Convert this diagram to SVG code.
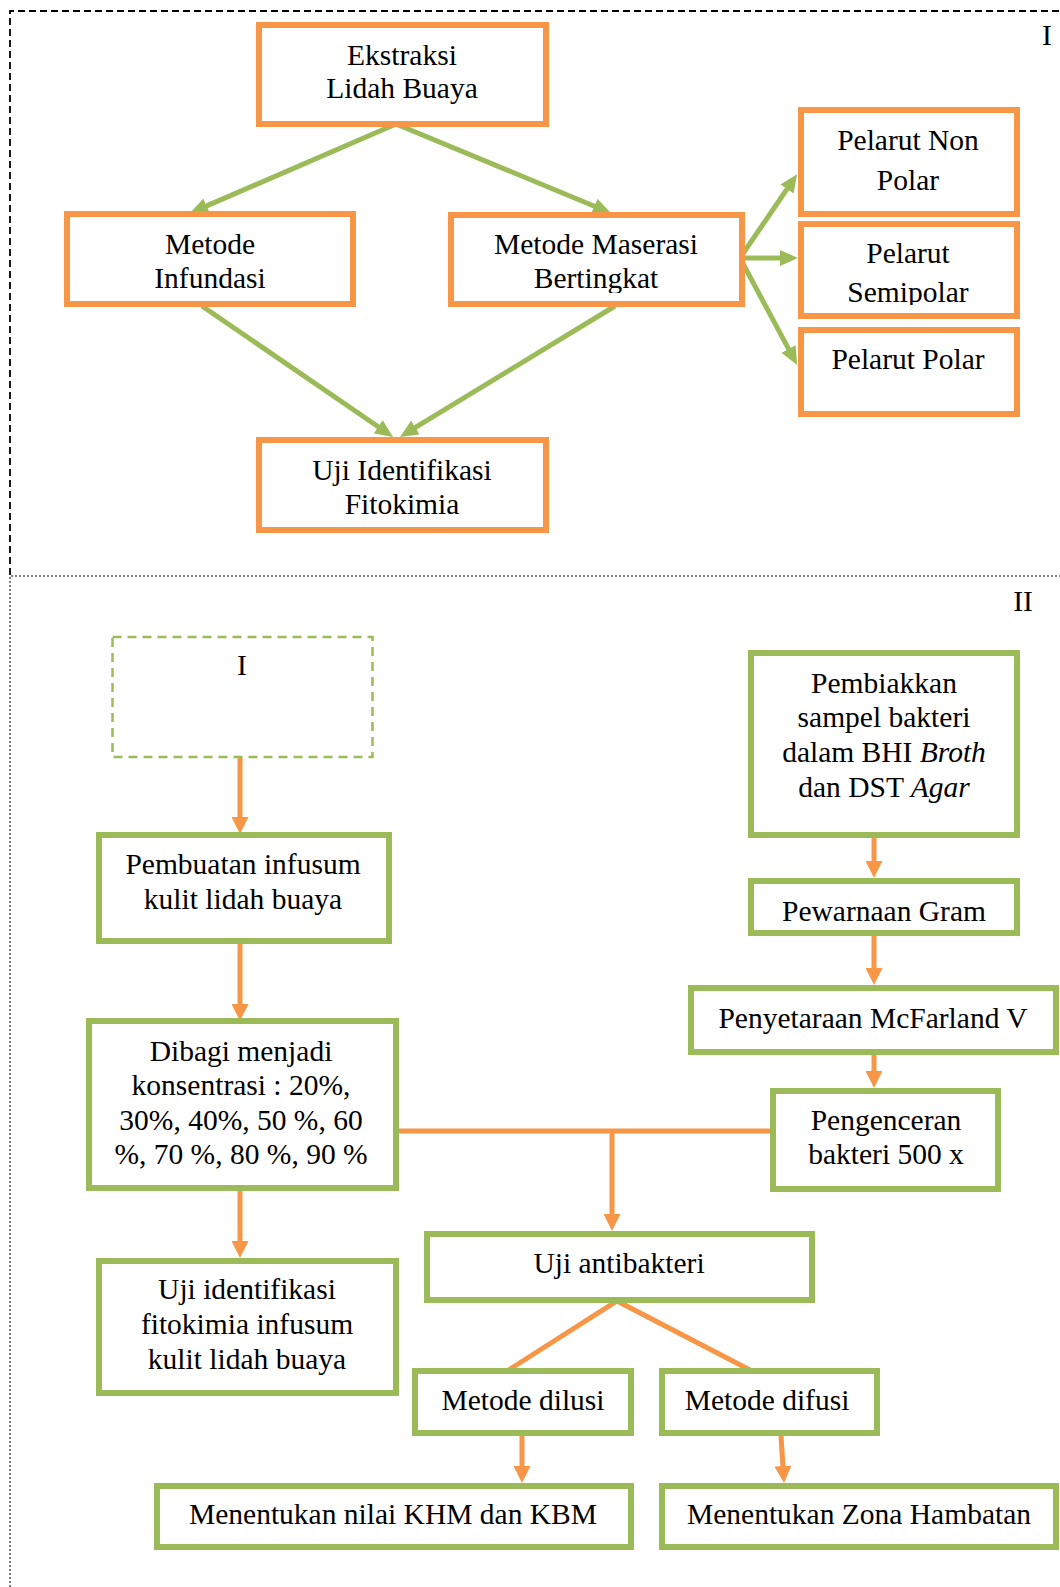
<svg xmlns="http://www.w3.org/2000/svg" width="1060" height="1587" viewBox="0 0 1060 1587">
<style>
text{font-family:"Liberation Serif","Times New Roman",serif;font-size:29.5px;fill:#000;text-anchor:middle}
.o{fill:#fff;stroke:#F79646;stroke-width:6}
.g{fill:#fff;stroke:#9BBB59;stroke-width:6}
.ga{fill:none;stroke:#9BBB59;stroke-width:5;marker-end:url(#mg)}
.oa{fill:none;stroke:#F79646;stroke-width:5;marker-end:url(#mo)}
.ol{fill:none;stroke:#F79646;stroke-width:5}
.it{font-style:italic}
</style>
<defs>
<marker id="mg" markerUnits="userSpaceOnUse" markerWidth="18" markerHeight="16" viewBox="0 0 18 16" refX="8" refY="8" orient="auto"><path d="M0,0 L18,8 L0,16 z" fill="#9BBB59"/></marker>
<marker id="mo" markerUnits="userSpaceOnUse" markerWidth="17" markerHeight="17" viewBox="0 0 17 17" refX="7" refY="8.5" orient="auto"><path d="M0,0 L17,8.5 L0,17 z" fill="#F79646"/></marker>
<clipPath id="cMas"><rect x="454" y="218" width="285" height="75"/></clipPath>
<clipPath id="cSemi"><rect x="804" y="227" width="210" height="78"/></clipPath>
</defs>
<rect width="1060" height="1587" fill="#fff"/>
<g id="frames">
<path d="M10,575 L10,11 L1060,11" fill="none" stroke="#000" stroke-width="1.8" stroke-dasharray="7,4"/>
<path d="M10,1587 L10,576 L1060,576" fill="none" stroke="#000" stroke-width="1" stroke-dasharray="2,2"/>
<text x="1047" y="45">I</text>
<text x="1023" y="611">II</text>
</g>
<g id="connectors">
<line class="ga" x1="396" y1="124" x2="199.2" y2="209.1"/>
<line class="ga" x1="396" y1="124" x2="601.7" y2="209.2"/>
<line class="ga" x1="202" y1="306" x2="384.8" y2="431.3"/>
<line class="ga" x1="615" y1="306" x2="408.5" y2="431.7"/>
<line class="ga" x1="740" y1="258" x2="791.5" y2="182.4"/>
<line class="ga" x1="740" y1="258" x2="788" y2="258"/>
<line class="ga" x1="740" y1="258" x2="792.4" y2="356.1"/>
<line class="oa" x1="240" y1="757" x2="240" y2="824"/>
<line class="oa" x1="240" y1="944" x2="240" y2="1011"/>
<line class="oa" x1="240" y1="1191" x2="240" y2="1248"/>
<line class="oa" x1="874" y1="838" x2="874" y2="868"/>
<line class="oa" x1="874" y1="936" x2="874" y2="975"/>
<line class="oa" x1="874" y1="1055" x2="874" y2="1078"/>
<line class="ol" x1="399" y1="1131" x2="771" y2="1131"/>
<line class="oa" x1="612" y1="1131" x2="612" y2="1221"/>
<polyline class="ol" points="507,1371 617,1301 750,1370"/>
<line class="oa" x1="522" y1="1436" x2="522" y2="1473"/>
<line class="oa" x1="781" y1="1436" x2="783.4" y2="1473"/>
</g>
<g id="n-ekstraksi"><rect class="o" x="259" y="25" width="287" height="99"/><text x="402" y="65">Ekstraksi</text><text x="402" y="98">Lidah Buaya</text></g>
<g id="n-infundasi"><rect class="o" x="67" y="214" width="286" height="90"/><text x="210" y="254">Metode</text><text x="210" y="288">Infundasi</text></g>
<g id="n-maserasi"><rect class="o" x="451" y="215" width="291" height="89"/><g clip-path="url(#cMas)"><text x="596" y="254">Metode Maserasi</text><text x="596" y="288">Bertingkat</text></g></g>
<g id="n-nonpolar"><rect class="o" x="801" y="110" width="216" height="104"/><text x="908" y="150">Pelarut Non</text><text x="908" y="190">Polar</text></g>
<g id="n-semipolar"><rect class="o" x="801" y="224" width="216" height="92"/><g clip-path="url(#cSemi)"><text x="908" y="263">Pelarut</text><text x="908" y="302">Semipolar</text></g></g>
<g id="n-polar"><rect class="o" x="801" y="330" width="216" height="84"/><text x="908" y="369">Pelarut Polar</text></g>
<g id="n-ujiidentifikasi"><rect class="o" x="259" y="440" width="287" height="90"/><text x="402" y="480">Uji Identifikasi</text><text x="402" y="514">Fitokimia</text></g>
<g id="n-ref-I"><rect x="112.5" y="637" width="260" height="120" fill="none" stroke="#9BBB59" stroke-width="2.5" stroke-dasharray="9,6"/><text x="242" y="675">I</text></g>
<g id="n-pembuatan"><rect class="g" x="99" y="835" width="290" height="106"/><text x="243" y="874">Pembuatan infusum</text><text x="243" y="909">kulit lidah buaya</text></g>
<g id="n-dibagi"><rect class="g" x="89" y="1021" width="307" height="167"/><text x="241" y="1061">Dibagi menjadi</text><text x="241" y="1095">konsentrasi : 20%,</text><text x="241" y="1130">30%, 40%, 50 %, 60</text><text x="241" y="1164">%, 70 %, 80 %, 90 %</text></g>
<g id="n-ujiinfusum"><rect class="g" x="99" y="1261" width="297" height="132"/><text x="247" y="1299">Uji identifikasi</text><text x="247" y="1334">fitokimia infusum</text><text x="247" y="1369">kulit lidah buaya</text></g>
<g id="n-pembiakkan"><rect class="g" x="751" y="653" width="266" height="182"/><text x="884" y="693">Pembiakkan</text><text x="884" y="727">sampel bakteri</text><text x="884" y="762">dalam BHI <tspan class="it">Broth</tspan></text><text x="884" y="797">dan DST <tspan class="it">Agar</tspan></text></g>
<g id="n-pewarnaan"><rect class="g" x="751" y="881" width="266" height="52"/><text x="884" y="921">Pewarnaan Gram</text></g>
<g id="n-penyetaraan"><rect class="g" x="691" y="988" width="365" height="64"/><text x="873" y="1028">Penyetaraan McFarland V</text></g>
<g id="n-pengenceran"><rect class="g" x="773" y="1091" width="225" height="98"/><text x="886" y="1130">Pengenceran</text><text x="886" y="1164">bakteri 500 x</text></g>
<g id="n-antibakteri"><rect class="g" x="427" y="1234" width="385" height="66"/><text x="619" y="1273">Uji antibakteri</text></g>
<g id="n-dilusi"><rect class="g" x="415" y="1371" width="216" height="62"/><text x="523" y="1410">Metode dilusi</text></g>
<g id="n-difusi"><rect class="g" x="662" y="1371" width="215" height="62"/><text x="767" y="1410">Metode difusi</text></g>
<g id="n-khm"><rect class="g" x="157" y="1486" width="474" height="61"/><text x="393" y="1524">Menentukan nilai KHM dan KBM</text></g>
<g id="n-zona"><rect class="g" x="662" y="1486" width="394" height="61"/><text x="859" y="1524">Menentukan Zona Hambatan</text></g>
</svg>
